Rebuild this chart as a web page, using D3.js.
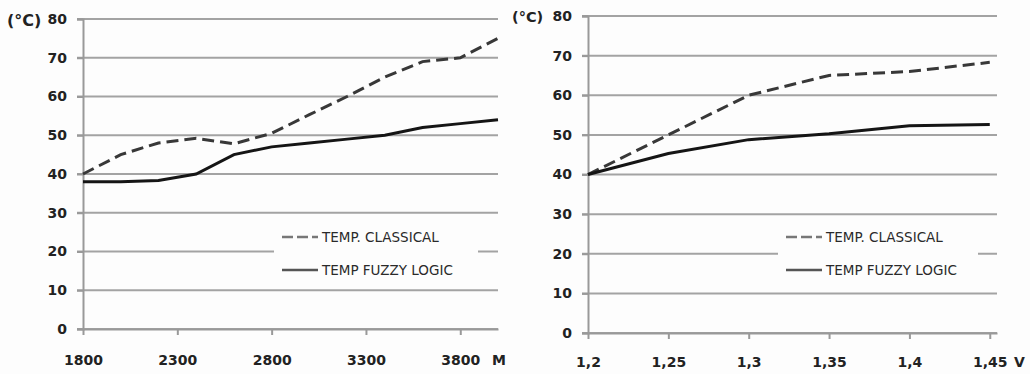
<!DOCTYPE html>
<html>
<head>
<meta charset="utf-8">
<script src="https://cdn.jsdelivr.net/npm/d3@7"></script>
<style>
body { margin: 0; background: #fdfdfd; }
svg { display: block; }
.axis text { font-family: "DejaVu Sans", sans-serif; font-weight: bold; font-size: 14px; fill: #222; }
.axis line, .axis path { stroke: #999; stroke-width: 2; }
.grid line { stroke: #a3a3a3; stroke-width: 2; }
.unit { font-family: "DejaVu Sans", sans-serif; font-weight: bold; font-size: 14px; fill: #222; }
.legend text { font-family: "DejaVu Sans", sans-serif; font-size: 13.5px; fill: #2a2a2a; }
</style>
</head>
<body>
<div id="chart"></div>
<script>
var WIDTH = 1030, HEIGHT = 374;

// left panel: temperature vs clock frequency
var freq_mhz = [1800, 2000, 2200, 2400, 2600, 2800, 3000, 3200, 3400, 3600, 3800, 4000];
var freq_classical = [40, 45, 48, 49.2, 47.8, 50.5, 55.3, 60, 65, 69, 70, 75];
var freq_fuzzy = [38, 38, 38.3, 40, 45, 47, 48, 49, 50, 52, 53, 54];
var freq_ticks = [1800, 2300, 2800, 3300, 3800];

// right panel: temperature vs core voltage
var volt_v = [1.2, 1.25, 1.3, 1.35, 1.4, 1.45];
var volt_classical = [40, 50, 60, 65, 66, 68.3];
var volt_fuzzy = [40, 45.3, 48.8, 50.3, 52.3, 52.6];
var volt_ticks = [1.2, 1.25, 1.3, 1.35, 1.4, 1.45];

var temp_ticks = [0, 10, 20, 30, 40, 50, 60, 70, 80];
var legend_labels = ['TEMP. CLASSICAL', 'TEMP FUZZY LOGIC'];

var svg = d3.select('#chart').append('svg')
    .attr('width', WIDTH)
    .attr('height', HEIGHT);

// the left chart is cropped just after the start of its unit label
svg.append('clipPath').attr('id', 'clip-left')
  .append('rect').attr('x', 0).attr('y', 0).attr('width', 506).attr('height', HEIGHT);

var Panel = function(cfg) {
    this.cfg = cfg;
    this.g = svg.append('g').attr('clip-path', cfg.clip ? 'url(#' + cfg.clip + ')' : null);
    this.x = d3.scaleLinear().domain(cfg.x_domain).range([cfg.left, cfg.right]);
    this.y = d3.scaleLinear().domain([0, 80]).range([cfg.bottom, cfg.top]);
};

Panel.prototype.draw = function() {
    var self = this, cfg = this.cfg;

    // horizontal gridlines (they poke out left of the axis like tick marks)
    this.g.append('g').attr('class', 'grid')
        .selectAll('line')
        .data(temp_ticks)
        .enter().append('line')
        .attr('x1', cfg.left - 6)
        .attr('x2', cfg.right)
        .attr('y1', function(d) { return self.y(d); })
        .attr('y2', function(d) { return self.y(d); });

    var axis_y = d3.axisLeft(this.y)
        .tickValues(temp_ticks)
        .tickSize(6)
        .tickPadding(10);
    this.g.append('g').attr('class', 'axis')
        .attr('transform', 'translate(' + cfg.left + ',0)')
        .call(axis_y);

    var axis_x = d3.axisBottom(this.x)
        .tickValues(cfg.x_ticks)
        .tickFormat(cfg.x_format)
        .tickSize(6)
        .tickSizeOuter(0)
        .tickPadding(cfg.x_pad);
    this.g.append('g').attr('class', 'axis')
        .attr('transform', 'translate(0,' + cfg.bottom + ')')
        .call(axis_x);

    this.g.append('text').attr('class', 'unit')
        .attr('x', cfg.unit_x).attr('y', cfg.unit_y)
        .style('font-size', cfg.unit_size + 'px')
        .text('(°C)');
    this.g.append('text').attr('class', 'unit')
        .attr('x', cfg.xunit_x).attr('y', cfg.xunit_y)
        .text(cfg.x_unit);

    // legend box sits on top of the gridlines
    var lg = this.g.append('g').attr('class', 'legend');
    lg.append('rect')
        .attr('x', cfg.legend.x).attr('y', cfg.legend.y)
        .attr('width', cfg.legend.w).attr('height', cfg.legend.h)
        .attr('fill', '#fdfdfd');
    var styles = [{dash: '11,4', color: '#777'}, {dash: null, color: '#555'}];
    legend_labels.forEach(function(label, i) {
        var ly = cfg.legend.y + 15 + i * 33;
        lg.append('line')
            .attr('x1', cfg.legend.x + 8).attr('x2', cfg.legend.x + 44)
            .attr('y1', ly).attr('y2', ly)
            .attr('stroke', styles[i].color)
            .attr('stroke-width', 2.5)
            .attr('stroke-dasharray', styles[i].dash);
        lg.append('text')
            .attr('x', cfg.legend.x + 48).attr('y', ly + 5)
            .text(label);
    });

    var line = d3.line()
        .x(function(d) { return self.x(d[0]); })
        .y(function(d) { return self.y(d[1]); });

    this.g.append('path')
        .datum(d3.zip(cfg.xs, cfg.classical))
        .attr('d', line)
        .attr('fill', 'none')
        .attr('stroke', '#383838')
        .attr('stroke-width', 3)
        .attr('stroke-dasharray', '12,6');
    this.g.append('path')
        .datum(d3.zip(cfg.xs, cfg.fuzzy))
        .attr('d', line)
        .attr('fill', 'none')
        .attr('stroke', '#151515')
        .attr('stroke-width', 3);
};

var left_panel = new Panel({
    clip: 'clip-left',
    left: 83, right: 498, top: 19, bottom: 329,
    x_domain: [1800, 4000],
    x_ticks: freq_ticks,
    x_format: d3.format('d'),
    x_pad: 20,
    xs: freq_mhz, classical: freq_classical, fuzzy: freq_fuzzy,
    unit_x: 7, unit_y: 26, unit_size: 16,
    x_unit: 'MHz', xunit_x: 492, xunit_y: 365,
    legend: {x: 274, y: 222, w: 204, h: 58}
});
left_panel.draw();

var right_panel = new Panel({
    left: 588, right: 997, top: 16, bottom: 333,
    x_domain: [1.2, 1.4545],
    x_ticks: volt_ticks,
    x_format: function(d) { return String(d).replace('.', ','); },
    x_pad: 18,
    xs: volt_v, classical: volt_classical, fuzzy: volt_fuzzy,
    unit_x: 512, unit_y: 22, unit_size: 14.5,
    x_unit: 'V', xunit_x: 1014, xunit_y: 367,
    legend: {x: 778, y: 222, w: 200, h: 58}
});
right_panel.draw();
</script>
</body>
</html>
